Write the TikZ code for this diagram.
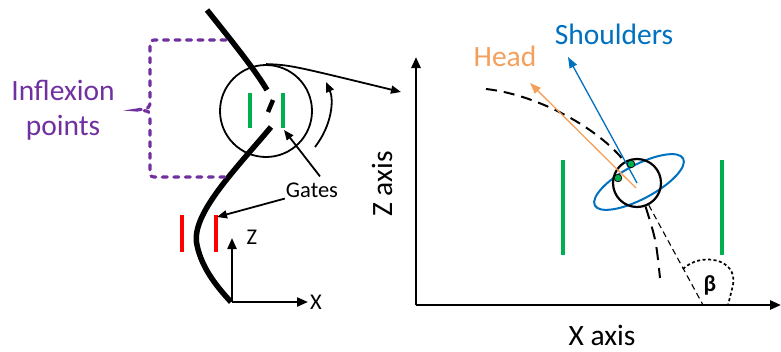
\documentclass[tikz,border=0pt]{standalone}
\usepackage{fontspec}
\setmainfont{Carlito}
\usetikzlibrary{arrows.meta, positioning}
\definecolor{inflexc}{HTML}{7030A0}
\definecolor{headc}{HTML}{F4A05C}
\definecolor{shoulc}{HTML}{0070C0}
\definecolor{gatec}{HTML}{00B050}
\definecolor{redgate}{HTML}{FF0000}

\begin{document}
\begin{tikzpicture}[x=1pt, y=-1pt,
  rope/.style={line width=5.5pt},
  gate/.style={line width=3.2pt},
  axis/.style={line width=2.2pt, -{Triangle[length=11pt, width=9pt]}},
  pointer/.style={line width=1.8pt, -{Triangle[length=10pt, width=8pt]}},
  thinarrow/.style={line width=1.3pt, -{Triangle[length=11pt, width=8pt]}},
  lbl/.style={font=\fontsize{29.5}{35}\selectfont, inner sep=1pt},
  smalllbl/.style={font=\fontsize{22.5}{26}\selectfont, inner sep=1pt}]
\useasboundingbox (0,0) rectangle (781,351);
% rope
\draw[rope] (207,10) .. controls (235,45) and (255,70) .. (267,90);
\draw[line width=4.5pt] (273,100) -- (268,112);
\draw[rope] (271,127) .. controls (235,170) and (190,215) .. (197,245) .. controls (202,270) and (220,290) .. (231,302);
% zoomed part
\node[draw, circle, line width=1.8pt, minimum size=92pt, inner sep=0pt] (zoomc) at (266,111) {};
\draw[gate, gatec] (250,93) -- (250,128);
\draw[gate, gatec] (283,93) -- (283,128);
\draw[pointer] (315,147) .. controls (332,125) and (334,100) .. (326,82);
\coordinate (zoomend) at (401,92);
\draw[pointer] (zoomc.north) .. controls (290,65) .. (zoomend);
% red gates
\draw[gate, redgate] (182,215) -- (182,252);
\draw[gate, redgate] (216,215) -- (216,252);
% gates label
\node[smalllbl] (gates) at (312,190) {Gates};
\coordinate (gateG) at (284,130);
\coordinate (gateR) at (217,217);
\draw[pointer] ([xshift=8pt, yshift=5pt]gates.north) -- (gateG);
\draw[pointer] (gates.south west) -- (gateR);
% inflexion bracket
\draw[inflexc, line width=3.2pt, line cap=round, dash pattern=on 5pt off 6.5pt]
  (226,40) -- (158,40) .. controls (150,40) .. (150,48) -- (150,100)
  .. controls (150,108) .. (137,110) .. controls (150,111) .. (150,119)
  -- (150,169) .. controls (150,177) .. (158,177) -- (230,177);
\node[lbl, inflexc, align=center] (inflexion) at (63,110) {Inflexion\\points};
% small axes
\coordinate (o1) at (232,302);
\draw[axis] (o1) -- (232,238);
\draw[axis] (o1) -- (308,302);
\node[smalllbl] (zsmall) at (252,237) {Z};
\node[smalllbl] (xsmall) at (316,302) {X};
% big axes
\coordinate (o2) at (416,305);
\draw[axis, line width=2.6pt] (o2) -- (416,57);
\draw[axis, line width=2.6pt] (o2) -- (781,305);
\node[lbl, rotate=90] (zaxis) at (382,184) {Z axis};
\node[lbl] (xaxis) at (602,335) {X axis};
% gates in top view
\draw[gate, gatec] (563,160) -- (563,255);
\draw[gate, gatec] (722,160) -- (722,255);
% skier
\draw[shoulc, line width=2pt, rotate around={28:(639,182)}] (639,182) ellipse [x radius=50, y radius=17];
\node[draw, circle, line width=2.2pt, minimum size=48pt, inner sep=0pt] (body) at (637,183) {};
\coordinate (beta) at (703,305);
\draw[line width=2pt, dash pattern=on 11pt off 7pt] (486,89) .. controls (540,95) and (600,130) .. (624,161);
\draw[line width=2pt, dash pattern=on 13pt off 8pt] (body.-70) .. controls (656,240) .. (660,278);
\draw[line width=1.1pt, dash pattern=on 6pt off 4pt] (body.-62) -- (beta);
\draw[line width=1.7pt, dash pattern=on 3pt off 2.5pt] (683,269) .. controls (700,252) and (738,258) .. (733,285) .. controls (731,295) .. (728,305);
\node[smalllbl, font=\fontsize{23}{26}\selectfont\bfseries] (betalab) at (710,285) {β};
% head and shoulders
\coordinate (headtip) at (530,83);
\coordinate (shoultip) at (568,57);
\draw[thinarrow, headc] (636,188) -- (headtip);
\draw[thinarrow, shoulc] (body.center) -- (shoultip);
\node[lbl, headc] (head) at (505,56) {Head};
\node[lbl, shoulc] (shoulders) at (614,34) {Shoulders};
\filldraw[fill=gatec, draw=black, line width=0.7pt] (631,164) circle (3.8);
\filldraw[fill=gatec, draw=black, line width=0.7pt] (618,178) circle (3.8);
\end{tikzpicture}
\end{document}
